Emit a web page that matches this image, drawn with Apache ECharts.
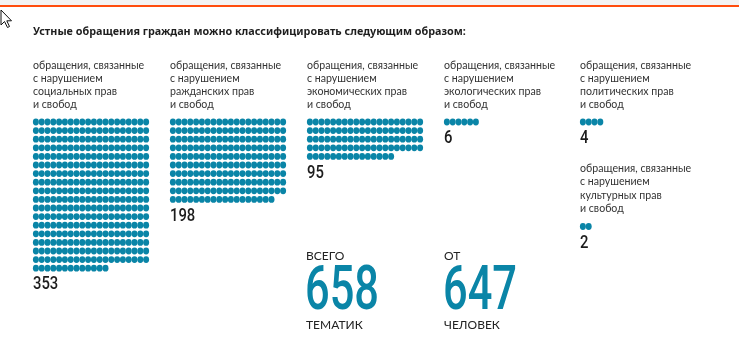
<!DOCTYPE html>
<html>
<head>
<meta charset="utf-8">
<script src="https://cdn.jsdelivr.net/npm/echarts@6/dist/echarts.min.js"></script>
<style>
  html, body { margin: 0; padding: 0; background: #fff; }
  #chart { width: 739px; height: 342px; }
</style>
</head>
<body>
<div id="chart"></div>
<script>
// Oral appeals by topic: one dot per appeal, 20 dots per row
const title = 'Устные обращения граждан можно классифицировать следующим образом:';
const categories = ['социальных', 'ражданских', 'экономических', 'экологических', 'политических', 'культурных'];
const counts = [353, 198, 95, 6, 4, 2];
const totalTopics = 658;
const totalPeople = 647;
const totalCaptions = ['ВСЕГО', 'ТЕМАТИК', 'ОТ', 'ЧЕЛОВЕК'];

// layout of the blocks (column left edge, top of caption, centre of first dot row)
const COLS = 20;
const PITCH_X = 5.8;
const PITCH_Y = 8.6;
const blockLeft = [33, 170, 307, 444, 580, 580];
const captionTop = [58.5, 58.5, 58.5, 58.5, 58.5, 162];
const firstRowY = [122, 122, 122, 122, 122, 227.5];
const ROWS_MAX = 18;

const DOT = '#0a85a7';
const TEXT = '#2a2a2a';
const LABEL_FONT = 'Lato, "Noto Sans", sans-serif';
const TITLE_FONT = '"Noto Sans", sans-serif';
const NUM_FONT = 'Roboto, "Noto Sans", sans-serif';

const chart = echarts.init(document.getElementById('chart'), null, { renderer: 'canvas' });

const grids = [], xAxes = [], yAxes = [], series = [];
counts.forEach((n, i) => {
  grids.push({
    left: blockLeft[i],
    top: firstRowY[i] - PITCH_Y / 2,
    width: COLS * PITCH_X,
    height: ROWS_MAX * PITCH_Y
  });
  xAxes.push({ gridIndex: i, type: 'value', min: -0.5, max: COLS - 0.5, show: false });
  yAxes.push({ gridIndex: i, type: 'value', min: -0.5, max: ROWS_MAX - 0.5, inverse: true, show: false });
  const pts = [];
  for (let k = 0; k < n; k++) pts.push([k % COLS, Math.floor(k / COLS)]);
  series.push({
    type: 'scatter',
    xAxisIndex: i,
    yAxisIndex: i,
    data: pts,
    symbol: 'circle',
    symbolSize: [6, 6.8],
    itemStyle: { color: DOT, opacity: 1 },
    silent: true
  });
});

chart.setOption({
  animation: false,
  grid: grids,
  xAxis: xAxes,
  yAxis: yAxes,
  series: series
});

function text(x, y, str, opts) {
  return Object.assign({
    type: 'text', x: x, y: y, silent: true,
    style: Object.assign({
      text: str, fill: TEXT, fontFamily: LABEL_FONT, fontSize: 11,
      textAlign: 'left', textVerticalAlign: 'top', align: 'left', verticalAlign: 'top'
    }, opts.style || {})
  }, opts.el || {});
}

const graphics = [
  // top strip
  { type: 'rect', shape: { x: 0, y: 0, width: 739, height: 5 }, style: { fill: '#f3f3f3' }, silent: true },
  { type: 'rect', shape: { x: 0, y: 5, width: 739, height: 2 }, style: { fill: '#ff4d0d' }, silent: true },
  // pointer
  { type: 'polygon', shape: { points: [[1, 10], [1, 25], [4.5, 21.5], [7.5, 27.5], [9.5, 26.5], [6.8, 20.8], [11.5, 20.8]] },
    style: { fill: '#fff', stroke: '#111', lineWidth: 1 }, silent: true },
  text(33, 31.5, title, { style: { fontFamily: TITLE_FONT, fontWeight: 'bold', fontSize: 10.8, fill: '#1e1e1e', textVerticalAlign: 'middle', verticalAlign: 'middle' } })
];

categories.forEach((c, i) => {
  graphics.push(text(blockLeft[i], captionTop[i],
    'обращения, связанные\nс нарушением\n' + c + ' прав\nи свобод',
    { style: { lineHeight: 13.3, fontSize: 10.6, fill: '#333' } }));
  const lastRow = Math.floor((counts[i] - 1) / COLS);
  const p = chart.convertToPixel({ gridIndex: i }, [0, lastRow]);
  graphics.push(text(blockLeft[i], p[1] + 16.5, String(counts[i]), {
    el: { scaleX: 0.78 },
    style: { fontFamily: NUM_FONT, fontSize: 19, fontWeight: 500, fill: '#1c1c1c',
      textVerticalAlign: 'middle', verticalAlign: 'middle' }
  }));
});

// totals
[[306, totalTopics, 0], [444, totalPeople, 2]].forEach(([x, v, c]) => {
  graphics.push(text(x, 256, totalCaptions[c], { style: { fontSize: 12, fill: '#222', textVerticalAlign: 'middle', verticalAlign: 'middle' } }));
  graphics.push(text(x - 1, 293, String(v), {
    el: { scaleX: 0.7 },
    style: { fontFamily: NUM_FONT, fontSize: 62, fontWeight: 500, fill: DOT,
      textVerticalAlign: 'middle', verticalAlign: 'middle' }
  }));
  graphics.push(text(x, 325, totalCaptions[c + 1], { style: { fontSize: 12, fill: '#222', textVerticalAlign: 'middle', verticalAlign: 'middle' } }));
});

chart.setOption({ graphic: { elements: graphics } });
</script>
</body>
</html>
